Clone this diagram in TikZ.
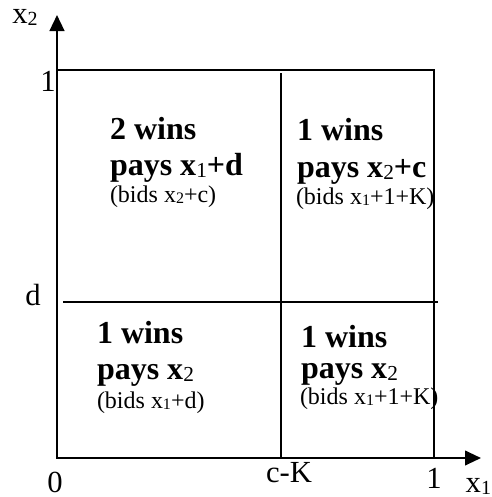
\documentclass[tikz,border=0pt]{standalone}
\usepackage{fontspec}
\setmainfont{Liberation Serif}
\usetikzlibrary{arrows.meta}

\newcommand{\lowidx}[2]{\raisebox{-0.08em}{\normalfont\fontsize{#1}{#1}\selectfont #2}}

\tikzset{every picture/.style={line width=1.5pt},
  big/.style={anchor=base west,inner sep=0.75pt,font=\fontsize{24}{28}\selectfont\bfseries},
  small/.style={anchor=base west,inner sep=0.75pt,font=\fontsize{18}{21}\selectfont},
  tick/.style={anchor=base,inner sep=0.75pt,font=\fontsize{23}{27}\selectfont}}

\begin{document}
\begin{tikzpicture}[x=0.75pt,y=0.75pt,yscale=-1,xscale=1]
\path[use as bounding box] (0,0) rectangle (492,497);

%Axes
\coordinate (o) at (57,458);
\coordinate (ytip) at (57,15);
\coordinate (xtip) at (481,458);
\draw [line width=1.8pt,-{Triangle[length=12pt,width=11pt]}] (o) -- (ytip);
\draw [-{Triangle[length=12pt,width=11pt]}] (o) -- (xtip);
%Shape: Square
\draw (o) rectangle (434,70);
%Straight Lines
\coordinate (ctop) at (281,73);
\coordinate (cbot) at (281,458);
\draw [line width=1.1pt] (ctop) -- (cbot);
\coordinate (dleft) at (63,302);
\coordinate (dright) at (438,302);
\draw [line width=1.1pt] (dleft) -- (dright);

% Text Node
\draw (25,23) node [tick] (lbx2) {x\lowidx{15}{2}};
\draw (48,91) node [tick] (lbone) {1};
\draw (33,305) node [tick] (lbd) {d};
\draw (55,492) node [tick] (lbzero) {0};
\draw (289,482) node [tick] (lbcK) {c-K};
\draw (434,488) node [tick] (lbonex) {1};
\draw (492,492) node [tick,anchor=base east,inner sep=0pt] (lbx1) {x\lowidx{15}{1}};

% Text Node
\draw (108,139) node [big] (tlwin) {2 wins};
\draw (108,175) node [big] (tlpay) {pays x\lowidx{16}{1}+d};
\draw (108,202) node [small] (tlbid) {(bids x\lowidx{12}{2}+c)};
% Text Node
\draw (295,140) node [big] (trwin) {1 wins};
\draw (295,177) node [big] (trpay) {pays x\lowidx{16}{2}+c};
\draw (294,204) node [small] (trbid) {(bids x\lowidx{12}{1}+1+K)};
% Text Node
\draw (95,343) node [big] (blwin) {1 wins};
\draw (95,379) node [big] (blpay) {pays x\lowidx{16}{2}};
\draw (95,408) node [small] (blbid) {(bids x\lowidx{12}{1}+d)};
% Text Node
\draw (299,347) node [big] (brwin) {1 wins};
\draw (299,378) node [big] (brpay) {pays x\lowidx{16}{2}};
\draw (298,404) node [small] (brbid) {(bids x\lowidx{12}{1}+1+K)};

\end{tikzpicture}
\end{document}
